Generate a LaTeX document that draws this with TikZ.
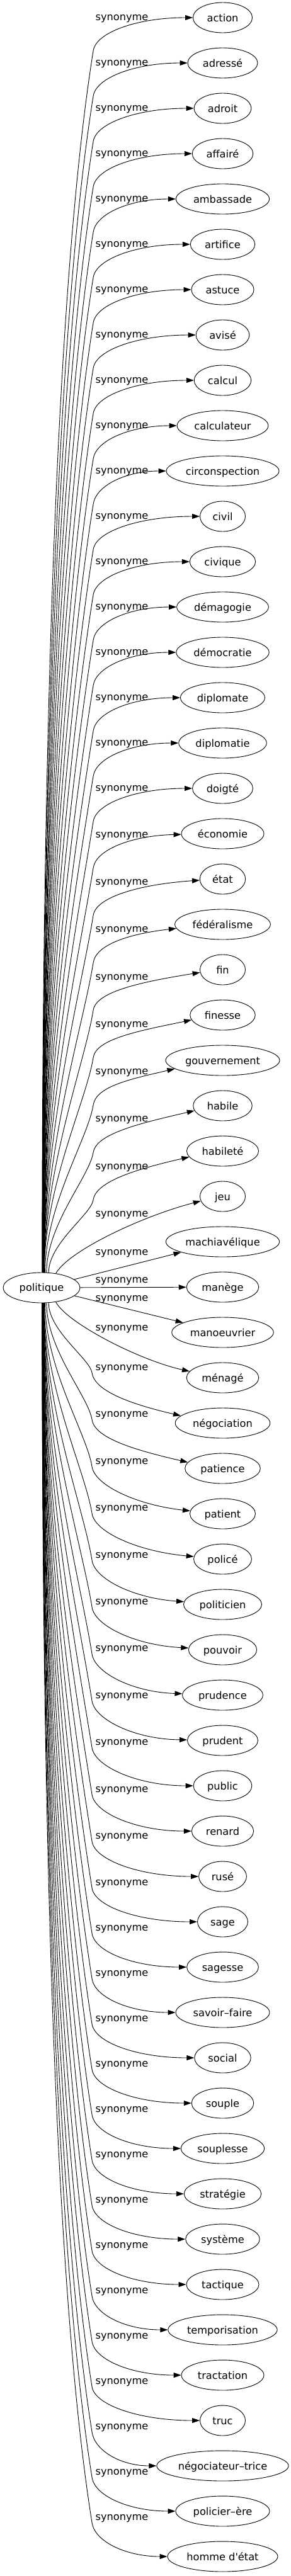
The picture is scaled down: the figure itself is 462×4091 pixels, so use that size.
\documentclass[tikz,border=0pt]{standalone}
\usepackage{fontspec}
\setmainfont{DejaVu Sans}
\usetikzlibrary{arrows.meta,shapes.geometric,calc}
\newlength\tw
\newcommand\dfont{\fontsize{16.2pt}{19pt}\selectfont}
\newcommand\wordlist{action,adressé,adroit,affairé,ambassade,artifice,astuce,avisé,calcul,calculateur,circonspection,civil,civique,démagogie,démocratie,diplomate,diplomatie,doigté,économie,état,fédéralisme,fin,finesse,gouvernement,habile,habileté,jeu,machiavélique,manège,manoeuvrier,ménagé,négociation,patience,patient,policé,politicien,pouvoir,prudence,prudent,public,renard,rusé,sage,sagesse,savoir–faire,social,souple,souplesse,stratégie,système,tactique,temporisation,tractation,truc,négociateur–trice,policier–ère,homme d\textquotesingle état}
\begin{document}
\dfont
\foreach \w [count=\k from 0] in \wordlist {\settowidth\tw{\w}\expandafter\xdef\csname tw\k\endcsname{\the\tw}}%
\begin{tikzpicture}[x=1pt,y=1pt,font=\dfont,
  word/.style={ellipse, draw, line width=0.9pt, inner sep=0pt, minimum height=48pt, text height=12pt, text depth=0pt},
  lab/.style={anchor=base, inner sep=0pt},
  syn/.style={draw, line width=0.9pt, -{Triangle[length=12pt,width=8pt]}}]
\useasboundingbox (0,0) rectangle (462,-4091);
\node[word, minimum width=122pt, text height=11pt] (P) at (66,-2045) {politique};
\foreach \w [count=\k from 0] in \wordlist {
  \pgfmathsetmacro\nw{max(72,1.257*\csname tw\k\endcsname+31.4)}
  \node[word, minimum width=\nw pt] (t\k) at (353.5,{-(28+72*\k)}) {\w};
}
% upper edges
\foreach \k in {0,...,25} {
  \pgfmathsetmacro\d{28-\k}
  \pgfmathsetmacro\ly{28+72*\k+max(0,3.3*(10.5-\d))}
  \pgfmathsetmacro\by{\ly+53}
  \pgfmathtruncatemacro\sa{\d>=6 ? 80+8*(\d-6)/22 : (\d==5 ? 77 : (\d==4 ? 72 : 65))}
  \pgfmathsetmacro\aa{max(0,min(10,2*(10.5-\d)))}
  \pgfmathtruncatemacro\ta{180+\aa}
  \pgfmathsetmacro\ph{1.3*\aa}
  \node[lab] (l\k) at (193.5,{-(\ly+4.5)}) {synonyme};
  \path[syn] let \p1=(P.\sa), \p2=(t\k.\ta), \n1={(-\by)-\y1}, \n2={\x2-148pt} in
    (\p1) .. controls (\x1,{\y1+0.4*\n1}) and ({148-0.032*\n1},{-\by-0.2*\n1}) .. (148,-\by)
    .. controls (152,{-\by+30}) and ({\x2-0.55*\n2*cos(\ph)},{\y2-0.55*\n2*sin(\ph)}) .. (\p2);
}
% lower edges
\foreach \k in {31,...,56} {
  \pgfmathsetmacro\d{\k-28}
  \pgfmathsetmacro\ly{28+72*\k-62-max(0,26-2.4*(\d-3))}
  \pgfmathsetmacro\by{\ly+8}
  \pgfmathtruncatemacro\sa{360-(\d>=6 ? 80+8*(\d-6)/22 : (\d==5 ? 77 : (\d==4 ? 72 : 65)))}
  \pgfmathsetmacro\bb{\d<=4 ? 10 : max(0,0.9*(10.5-\d))}
  \pgfmathtruncatemacro\ta{180-\bb}
  \pgfmathsetmacro\ph{1.3*\bb}
  \node[lab] (l\k) at (193.5,{-(\ly+4.5)}) {synonyme};
  \path[syn] let \p1=(P.\sa), \p2=(t\k.\ta), \n1={\y1+\by}, \n2={\x2-146pt} in
    (\p1) .. controls (\x1,{\y1-0.4*\n1}) and ({146-0.032*\n1},{-\by+0.2*\n1}) .. (146,-\by)
    .. controls (150,{-\by-30}) and ({\x2-0.55*\n2*cos(\ph)},{\y2+0.55*\n2*sin(\ph)}) .. (\p2);
}
% near edges
\node[lab] (l26) at (193.5,-1932.5) {synonyme};
\draw[syn] (P.45) .. controls (110,-1985) and (230,-1930) .. (t26.192);
\node[lab] (l27) at (193.5,-1993.5) {synonyme};
\draw[syn] (P) -- (t27);
\node[lab] (l28) at (193.5,-2037.5) {synonyme};
\draw[syn] (P) -- (t28);
\node[lab] (l29) at (193.5,-2066.5) {synonyme};
\draw[syn] (P) -- (t29);
\node[lab] (l30) at (193.5,-2113.5) {synonyme};
\draw[syn] (P.315) .. controls (105,-2100) and (220,-2160) .. (t30.169);
\end{tikzpicture}
\end{document}
